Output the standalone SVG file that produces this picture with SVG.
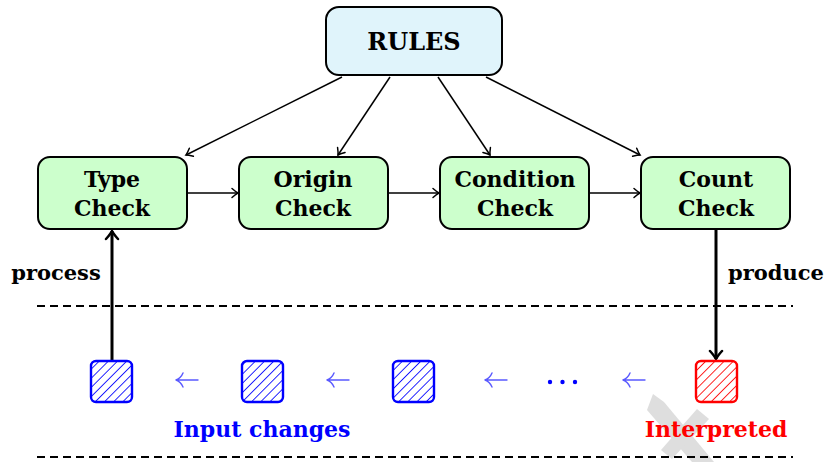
<svg xmlns="http://www.w3.org/2000/svg" width="827" height="462" viewBox="0 0 827 462">
  <style>
    .box { stroke: #000; stroke-width: 2; }
    .rules { fill: #e0f4fb; }
    .step { fill: #ccffcc; }
    .lbl { font-family: "DejaVu Serif", "Liberation Serif", serif; font-weight: bold; font-size: 22px; fill: #000; text-anchor: middle; }
    .edge { stroke: #000; stroke-width: 1.5; fill: none; marker-end: url(#tip); }
    .flow { stroke: #000; stroke-width: 3; fill: none; marker-end: url(#tipBold); }
    .dash { stroke: #000; stroke-width: 2; stroke-dasharray: 8 5; }
    .cell { stroke-width: 2.4; }
    .larr { stroke: #5a5aff; stroke-width: 1.4; fill: none; stroke-linecap: round; }
  </style>
  <defs>
    <marker id="tip" viewBox="-8 -6 10 12" refX="0" refY="0" markerWidth="10" markerHeight="12" markerUnits="userSpaceOnUse" orient="auto">
      <path d="M-6,-4.5 Q-2,-1 0,0 Q-2,1 -6,4.5" fill="none" stroke="#000" stroke-width="1.5" stroke-linecap="round"/>
    </marker>
    <marker id="tipBold" viewBox="-10 -8 12 16" refX="0" refY="0" markerWidth="12" markerHeight="16" markerUnits="userSpaceOnUse" orient="auto">
      <path d="M-8,-6 Q-3,-1.5 0,0 Q-3,1.5 -8,6" fill="none" stroke="#000" stroke-width="2.5" stroke-linecap="round"/>
    </marker>
    <pattern id="hatchBlue" patternUnits="userSpaceOnUse" width="6.5" height="6.5" patternTransform="rotate(45)">
      <line x1="0" y1="0" x2="0" y2="6.5" stroke="#0000ff" stroke-width="1.7"/>
    </pattern>
    <pattern id="hatchRed" patternUnits="userSpaceOnUse" width="6.5" height="6.5" patternTransform="rotate(45)">
      <line x1="0" y1="0" x2="0" y2="6.5" stroke="#ff0000" stroke-width="1.7"/>
    </pattern>
    <!-- thin leftward arrow used between the input cells -->
    <path id="leftArrow" d="M-11,0 H11 M-11,0 Q-6,-2 -4,-7 M-11,0 Q-6,2 -4,7"/>
  </defs>

  <!-- faint grey mark behind the output label -->
  <g id="mark" fill="#dedede">
    <polygon points="653,394 664,402 714,462 692,462 647,410"/>
    <polygon points="697,409 709,419 672,459 661,450"/>
  </g>

  <!-- separators -->
  <line class="dash" x1="37" y1="306" x2="793" y2="306"/>
  <line class="dash" x1="37" y1="457" x2="793" y2="457"/>

  <g id="connectors">
    <line class="edge" x1="342" y1="77" x2="186" y2="155"/>
    <line class="edge" x1="390" y1="77" x2="338" y2="155"/>
    <line class="edge" x1="438" y1="77" x2="490" y2="155"/>
    <line class="edge" x1="486" y1="77" x2="640" y2="155"/>
    <line class="edge" x1="187" y1="193" x2="238" y2="193"/>
    <line class="edge" x1="388" y1="193" x2="439" y2="193"/>
    <line class="edge" x1="590" y1="193" x2="640" y2="193"/>
    <line class="flow" x1="112" y1="360" x2="112" y2="231"/>
    <line class="flow" x1="716" y1="230" x2="716" y2="359"/>
  </g>

  <g id="rules">
    <rect class="box rules" x="326" y="7" width="176" height="68" rx="13"/>
    <text class="lbl" x="414" y="50" font-size="24" style="font-size:24px">RULES</text>
  </g>
  <g id="type-check">
    <rect class="box step" x="38" y="157" width="149" height="72" rx="12"/>
    <text class="lbl" x="112" y="187">Type</text>
    <text class="lbl" x="112" y="216">Check</text>
  </g>
  <g id="origin-check">
    <rect class="box step" x="239" y="157" width="149" height="72" rx="12"/>
    <text class="lbl" x="313" y="187">Origin</text>
    <text class="lbl" x="313" y="216">Check</text>
  </g>
  <g id="condition-check">
    <rect class="box step" x="440" y="157" width="149" height="72" rx="12"/>
    <text class="lbl" x="515" y="187">Condition</text>
    <text class="lbl" x="515" y="216">Check</text>
  </g>
  <g id="count-check">
    <rect class="box step" x="641" y="157" width="149" height="72" rx="12"/>
    <text class="lbl" x="716" y="187">Count</text>
    <text class="lbl" x="716" y="216">Check</text>
  </g>

  <text class="lbl" x="56" y="280" style="font-size:21px">process</text>
  <text class="lbl" x="776" y="280" style="font-size:21px">produce</text>

  <!-- input sequence -->
  <g id="input-1"><rect class="cell" x="91" y="361" width="41" height="41" rx="5" fill="url(#hatchBlue)" stroke="#0000ff"/></g>
  <g id="input-2"><rect class="cell" x="242" y="361" width="41" height="41" rx="5" fill="url(#hatchBlue)" stroke="#0000ff"/></g>
  <g id="input-3"><rect class="cell" x="393" y="361" width="41" height="41" rx="5" fill="url(#hatchBlue)" stroke="#0000ff"/></g>
  <g id="output"><rect class="cell" x="696" y="361" width="41" height="41" rx="5" fill="url(#hatchRed)" stroke="#ff0000"/></g>

  <g class="larr">
    <use href="#leftArrow" x="187" y="380"/>
    <use href="#leftArrow" x="338" y="380"/>
    <use href="#leftArrow" x="496" y="380"/>
    <use href="#leftArrow" x="634" y="380"/>
  </g>
  <g fill="#0000ff">
    <circle cx="550" cy="382" r="2.2"/>
    <circle cx="562.5" cy="382" r="2.2"/>
    <circle cx="575" cy="382" r="2.2"/>
  </g>

  <text class="lbl" x="262" y="437" style="fill:#0000ff">Input changes</text>
  <text class="lbl" x="716" y="437" style="fill:#ff0000">Interpreted</text>
</svg>
